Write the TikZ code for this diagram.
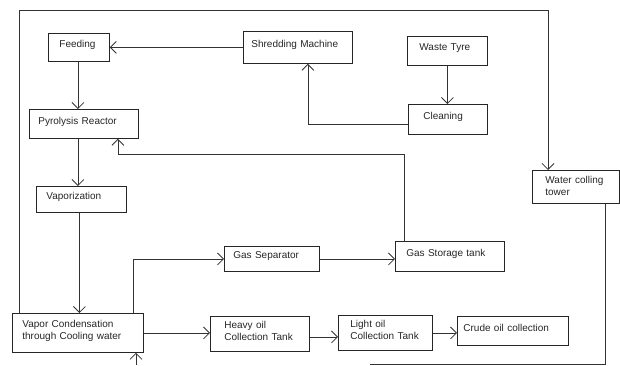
\documentclass[tikz,border=0pt]{standalone}
\usepackage{fontspec}
\setmainfont{Liberation Sans}
\usetikzlibrary{positioning,arrows.meta,calc}

\begin{document}
\begin{tikzpicture}[
  x=1pt, y=-1pt,
  every node/.style={font=\fontsize{10}{12.5}\selectfont, text=black!85},
  % box: outer width, height and left padding in pt; text sits left, a bit high
  blk/.style n args={3}{
    draw=black!85,
    line width=0.8pt,
    anchor=north west,
    align=left,
    inner xsep=#3pt,
    inner ysep=2pt,
    text width=\dimexpr#1pt-#3pt-#3pt\relax,
    text depth=7pt,
    minimum height=#2pt
  },
  two/.style={text depth=#1},
  two/.default=19pt,
  arr/.style={-{Straight Barb[length=6pt,width=12pt]}, line width=0.8pt, draw=black!80},
  ln/.style={line width=0.8pt, draw=black!80}
]
\useasboundingbox (0,0) rectangle (620,365);

% process boxes
\node[blk={61}{28}{11}] (feed) at (48,33) {Feeding};
\node[blk={109}{32}{8}] (shred) at (243,31) {Shredding Machine};
\node[blk={80}{29}{12}] (waste) at (407,36) {Waste Tyre};
\node[blk={79}{30}{15}] (clean) at (408,104) {Cleaning};
\node[blk={109}{29}{9}] (pyro) at (29,109) {Pyrolysis Reactor};
\node[blk={90}{26}{10}] (vapz) at (36,186) {Vaporization};
\node[blk={87}{33}{13}, two=15pt] (tower) at (532,170) {Water colling\\tower};
\node[blk={95}{25}{9}] (gsep) at (224,246) {Gas Separator};
\node[blk={109}{30}{11}] (gstore) at (395,241) {Gas Storage tank};
\node[blk={131}{39}{10}, two] (cond) at (12,313) {Vapor Condensation\\through Cooling water};
\node[blk={99}{35}{14}, two] (heavy) at (210,316) {Heavy oil\\\mbox{Collection Tank}};
\node[blk={94}{35}{12}, two] (light) at (338,315) {Light oil\\\mbox{Collection Tank}};
\node[blk={111}{29}{6}] (crude) at (457,316) {Crude oil collection};

% free ends of the cooling water loop
\coordinate (loopcorner) at (548,10);
\coordinate (retend) at (370,364);
\coordinate (cwin) at (136,365);

% connectors
\draw[arr] (shred.west) -- (feed.east);
\draw[arr] (waste.south) -- (waste.south |- clean.north);
\draw[arr] ([yshift=-5pt]clean.west) -| ([xshift=10pt]shred.south);
\draw[arr] ([xshift=-1pt]feed.south) -- ([xshift=-1pt]feed.south |- pyro.north);
\draw[arr] ([xshift=-1pt]feed.south |- pyro.south) -- ([xshift=-1pt]feed.south |- vapz.north);
\draw[arr] ([xshift=-2pt]vapz.south) -- ([xshift=-2pt]vapz.south |- cond.north);
\draw[arr] ([xshift=9pt]gstore.north west) |- ([xshift=34pt,yshift=-16pt]pyro.south) -- ([xshift=34pt]pyro.south);
\draw[arr] ([xshift=-10pt]cond.north east) |- (gsep.west);
\draw[arr] (gsep.east) -- (gsep.east -| gstore.west);
\draw[arr] (cond.east) -- (cond.east -| heavy.west);
\draw[arr] ([yshift=-3pt]heavy.east) -- ([yshift=-3pt]heavy.east -| light.west);
\draw[arr] (light.east) -- (light.east -| crude.west);
\draw[arr] ([xshift=7pt]cond.north west) |- (loopcorner) -- (loopcorner |- tower.north);
\draw[ln] ([xshift=-14pt]tower.south east) |- (retend);
\draw[arr] (cwin) -- (cwin |- cond.south);

\end{tikzpicture}
\end{document}
